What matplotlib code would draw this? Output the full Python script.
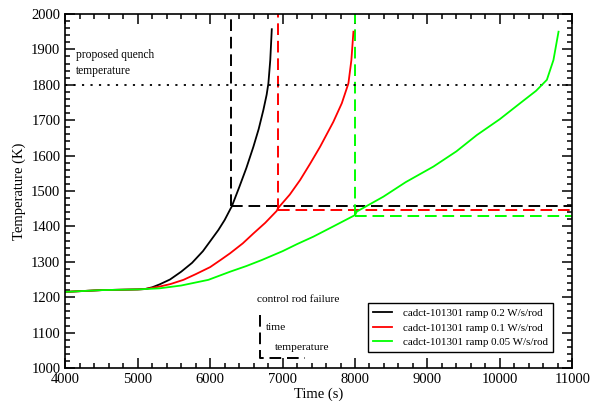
import matplotlib
matplotlib.use('Agg')
import matplotlib.pyplot as plt
import matplotlib.ticker as ticker

plt.rcParams['font.family'] = ['Liberation Serif', 'DejaVu Serif']

# curve data (time in s, temperature in K)
t_02 = [4000, 4500, 5000, 5100, 5200, 5300, 5446, 5600, 5750, 5900, 6000, 6114, 6200, 6284,
        6298, 6400, 6500, 6597, 6670, 6735, 6780, 6804, 6830, 6851]
T_02 = [1215, 1220, 1222, 1223, 1228, 1236, 1250, 1272, 1297, 1330, 1358, 1390, 1418, 1451,
        1456, 1510, 1565, 1625, 1675, 1729, 1772, 1804, 1870, 1957]

t_01 = [4000, 4500, 5000, 5100, 5300, 5450, 5631, 5800, 6000, 6150, 6275, 6450, 6597, 6760, 6920,
        6935, 7100, 7242, 7380, 7518, 7700, 7818, 7909, 7950, 7978]
T_01 = [1215, 1220, 1222, 1223, 1230, 1237, 1249, 1265, 1285, 1306, 1324, 1352, 1380, 1410, 1444,
        1451, 1490, 1531, 1577, 1625, 1695, 1748, 1804, 1870, 1950]

t_005 = [4000, 4500, 5000, 5300, 5600, 5975, 6275, 6500, 6713, 7000, 7200, 7425, 7700, 8001,
         8025, 8200, 8392, 8700, 9083, 9400, 9682, 10000, 10280, 10500, 10649, 10740, 10810]
T_005 = [1215, 1220, 1222, 1225, 1233, 1249, 1272, 1288, 1305, 1330, 1350, 1371, 1400, 1432,
         1442, 1462, 1484, 1525, 1569, 1612, 1658, 1703, 1748, 1783, 1814, 1870, 1950]

# control rod failure: time and temperature
fail_t = [6284, 6935, 8001]
fail_T = [1457, 1445, 1430]
colors = ['black', '#ff0000', '#00ff00']
labels = ['cadct-101301 ramp 0.2 W/s/rod', 'cadct-101301 ramp 0.1 W/s/rod', 'cadct-101301 ramp 0.05 W/s/rod']
quench_T = 1800

fig = plt.figure(figsize=[5.98, 4.01], dpi=100)
ax = fig.add_axes([0.1092, 0.0823, 0.8478, 0.8828])

dash = (0, (6, 3))
for ft, fT, c in zip(fail_t, fail_T, colors):
    ax.plot([ft, ft], [fT, 2000], c=c, lw=1.4, ls=dash)
    ax.plot([ft, 11000], [fT, fT], c=c, lw=1.4, ls=dash)

ax.plot([4000, 11000], [quench_T, quench_T], c='black', lw=1.3, ls=(0, (1.2, 3.5)))

for t, T, c, lab in zip([t_02, t_01, t_005], [T_02, T_01, T_005], colors, labels):
    ax.plot(t, T, c=c, lw=1.3, label=lab)

ax.text(4148, 1862, 'proposed quench\ntemperature', fontsize=8.3, va='center', linespacing=1.5)

# key for the dashed lines
ax.plot([6690, 6690, 7311], [1150, 1028, 1028], c='black', lw=1.4, ls=dash)
ax.text(6650, 1193, 'control rod failure', fontsize=8.2, va='center')
ax.text(6773, 1113, 'time', fontsize=8.2, va='center')
ax.text(6896, 1057, 'temperature', fontsize=8.2, va='center')

ax.set_xlim([4000, 11000])
ax.set_ylim([1000, 2000])
ax.xaxis.set_major_locator(ticker.MultipleLocator(1000))
ax.xaxis.set_minor_locator(ticker.MultipleLocator(200))
ax.yaxis.set_major_locator(ticker.MultipleLocator(100))
ax.yaxis.set_minor_locator(ticker.MultipleLocator(20))
ax.tick_params(which='both', direction='in', top=True, right=True, width=1.1, labelsize=10.5)
ax.tick_params(which='major', length=7)
ax.tick_params(which='minor', length=3.5)
for s in ax.spines.values():
    s.set_linewidth(1.2)
ax.set_xlabel('Time (s)', fontsize=10.5, labelpad=1)
ax.set_ylabel('Temperature (K)', fontsize=10.5, labelpad=4)

leg = ax.legend(loc='lower right', bbox_to_anchor=(0.962, 0.045), borderaxespad=0, fontsize=7.9,
                fancybox=False, framealpha=1, edgecolor='black', handlelength=1.75, handletextpad=1.0,
                borderpad=0.45, labelspacing=0.45)
leg.get_frame().set_linewidth(1.0)

plt.savefig('out.png', dpi=100)
